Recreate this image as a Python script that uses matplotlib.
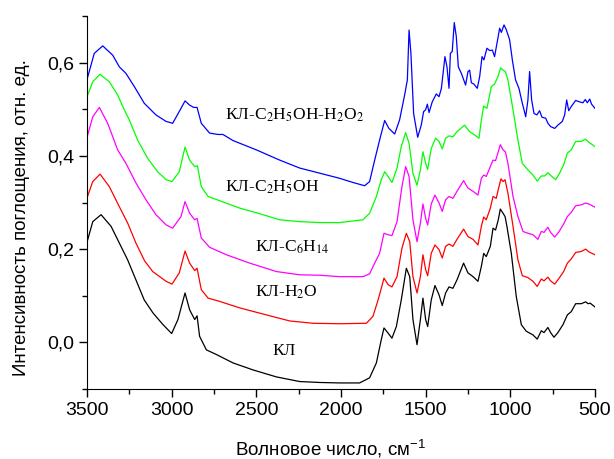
import matplotlib.pyplot as plt
from matplotlib.ticker import MultipleLocator, FuncFormatter

plt.rcParams['font.family'] = ['Liberation Sans', 'DejaVu Sans']
plt.rcParams['mathtext.fontset'] = 'custom'
plt.rcParams['mathtext.rm'] = 'Liberation Sans'
plt.rcParams['mathtext.it'] = 'Liberation Sans'

# КЛ (black)
wn_kl = [3500, 3466, 3417, 3358, 3309, 3260, 3211, 3162, 3110, 3051, 3000, 2963, 2921, 2894,
         2864, 2850, 2835, 2795, 2736, 2638, 2520, 2382, 2244, 2126, 2008, 1890, 1831, 1791,
         1762, 1746, 1722, 1699, 1673, 1644, 1614, 1594, 1575, 1551, 1531, 1516, 1500, 1488,
         1467, 1445, 1421, 1402, 1382, 1362, 1339, 1315, 1276, 1250, 1220, 1191, 1171, 1157,
         1142, 1118, 1102, 1087, 1071, 1059, 1043, 1031, 1020, 994, 965, 935, 906, 866, 841,
         817, 801, 778, 762, 742, 719, 689, 663, 640, 614, 581, 555, 541, 528, 500]
a_kl = [0.215, 0.259, 0.274, 0.249, 0.213, 0.177, 0.134, 0.091, 0.063, 0.038, 0.019, 0.049,
        0.106, 0.07, 0.049, 0.057, 0.013, -0.016, -0.026, -0.044, -0.059, -0.074, -0.084,
        -0.086, -0.087, -0.087, -0.076, -0.044, 0.006, 0.031, 0.02, 0.009, 0.034, 0.091, 0.159,
        0.141, 0.049, -0.005, 0.049, 0.095, 0.049, 0.034, 0.091, 0.122, 0.102, 0.079, 0.106,
        0.119, 0.116, 0.134, 0.17, 0.149, 0.141, 0.131, 0.163, 0.191, 0.184, 0.206, 0.245,
        0.241, 0.263, 0.286, 0.277, 0.27, 0.249, 0.191, 0.099, 0.038, 0.024, 0.016, 0.007,
        0.025, 0.021, 0.032, 0.021, 0.011, 0.021, 0.038, 0.059, 0.066, 0.083, 0.083, 0.087,
        0.083, 0.084, 0.076]

# КЛ-H2O (red)
wn_h2o = [3500, 3466, 3423, 3368, 3309, 3260, 3211, 3160, 3112, 3033, 2998, 2955, 2921, 2894,
          2864, 2850, 2825, 2785, 2717, 2598, 2441, 2303, 2165, 2008, 1850, 1811, 1781, 1759,
          1746, 1722, 1699, 1669, 1640, 1614, 1594, 1575, 1551, 1531, 1516, 1500, 1488, 1467,
          1445, 1421, 1402, 1382, 1362, 1339, 1315, 1276, 1250, 1220, 1191, 1171, 1157, 1142,
          1118, 1102, 1083, 1069, 1055, 1043, 1031, 1014, 984, 955, 929, 896, 866, 841, 817,
          801, 778, 762, 738, 715, 685, 663, 640, 614, 581, 555, 535, 500]
a_h2o = [0.31, 0.345, 0.361, 0.334, 0.291, 0.256, 0.213, 0.175, 0.152, 0.131, 0.125, 0.149,
         0.196, 0.17, 0.154, 0.159, 0.113, 0.095, 0.088, 0.074, 0.059, 0.046, 0.041, 0.04, 0.041,
         0.056, 0.091, 0.12, 0.138, 0.124, 0.119, 0.141, 0.202, 0.234, 0.216, 0.141, 0.106,
         0.141, 0.188, 0.156, 0.143, 0.191, 0.209, 0.199, 0.181, 0.206, 0.211, 0.206, 0.221,
         0.243, 0.227, 0.221, 0.209, 0.249, 0.269, 0.263, 0.288, 0.313, 0.309, 0.331, 0.351,
         0.345, 0.349, 0.32, 0.249, 0.177, 0.143, 0.139, 0.131, 0.12, 0.136, 0.132, 0.14,
         0.132, 0.125, 0.136, 0.152, 0.17, 0.179, 0.193, 0.195, 0.2, 0.194, 0.188]

# КЛ-C6H14 (magenta)
wn_hex = [3500, 3466, 3427, 3378, 3319, 3270, 3211, 3152, 3093, 3033, 2994, 2945, 2921, 2894,
          2864, 2850, 2825, 2776, 2677, 2539, 2382, 2244, 2126, 2008, 1870, 1831, 1801, 1772,
          1746, 1722, 1699, 1669, 1640, 1618, 1598, 1575, 1551, 1531, 1516, 1500, 1488, 1467,
          1445, 1421, 1402, 1382, 1362, 1339, 1315, 1276, 1250, 1220, 1191, 1171, 1157, 1142,
          1118, 1102, 1087, 1071, 1059, 1043, 1029, 1014, 984, 955, 925, 896, 866, 837, 817,
          801, 778, 762, 738, 715, 685, 663, 640, 614, 581, 555, 531, 500]
a_hex = [0.44, 0.484, 0.504, 0.47, 0.413, 0.384, 0.342, 0.306, 0.274, 0.252, 0.245, 0.27,
         0.302, 0.277, 0.263, 0.266, 0.224, 0.204, 0.188, 0.17, 0.152, 0.145, 0.144, 0.141,
         0.141, 0.147, 0.17, 0.191, 0.234, 0.231, 0.229, 0.259, 0.334, 0.377, 0.356, 0.263,
         0.216, 0.256, 0.297, 0.266, 0.252, 0.297, 0.316, 0.299, 0.281, 0.306, 0.313, 0.309,
         0.324, 0.347, 0.331, 0.324, 0.316, 0.352, 0.359, 0.356, 0.377, 0.391, 0.39, 0.409,
         0.424, 0.413, 0.409, 0.384, 0.313, 0.27, 0.238, 0.234, 0.231, 0.221, 0.238, 0.236,
         0.247, 0.236, 0.226, 0.236, 0.254, 0.27, 0.279, 0.293, 0.295, 0.299, 0.296, 0.29]

# КЛ-C2H5OH (green)
wn_eth = [3500, 3466, 3423, 3368, 3319, 3289, 3250, 3201, 3142, 3083, 3033, 2998, 2955, 2921,
          2894, 2864, 2848, 2825, 2785, 2717, 2598, 2480, 2362, 2244, 2126, 2008, 1870, 1831,
          1791, 1762, 1742, 1722, 1699, 1669, 1644, 1618, 1598, 1575, 1551, 1531, 1516, 1500,
          1488, 1467, 1441, 1421, 1402, 1382, 1362, 1339, 1315, 1270, 1240, 1211, 1185, 1171,
          1157, 1138, 1112, 1093, 1073, 1057, 1043, 1029, 1014, 984, 955, 929, 896, 866, 841,
          817, 797, 778, 758, 732, 709, 685, 663, 640, 614, 581, 557, 535, 500]
a_eth = [0.527, 0.559, 0.575, 0.559, 0.531, 0.506, 0.477, 0.434, 0.395, 0.366, 0.349, 0.345,
         0.366, 0.419, 0.391, 0.377, 0.379, 0.334, 0.313, 0.304, 0.288, 0.276, 0.263, 0.259,
         0.257, 0.257, 0.263, 0.277, 0.313, 0.349, 0.366, 0.356, 0.343, 0.374, 0.42, 0.45,
         0.427, 0.363, 0.337, 0.37, 0.409, 0.384, 0.371, 0.416, 0.438, 0.431, 0.415, 0.438,
         0.443, 0.441, 0.452, 0.466, 0.452, 0.445, 0.438, 0.477, 0.507, 0.502, 0.549, 0.554,
         0.57, 0.589, 0.584, 0.581, 0.563, 0.499, 0.434, 0.384, 0.37, 0.359, 0.346, 0.357,
         0.357, 0.364, 0.357, 0.349, 0.363, 0.381, 0.406, 0.413, 0.431, 0.431, 0.436, 0.429,
         0.42]

# КЛ-C2H5OH-H2O2 (blue)
wn_per = [3500, 3457, 3407, 3348, 3309, 3270, 3221, 3162, 3093, 3033, 2994, 2945, 2921, 2894,
          2870, 2850, 2825, 2776, 2726, 2697, 2638, 2500, 2362, 2244, 2126, 2008, 1929, 1860,
          1831, 1801, 1772, 1742, 1717, 1683, 1654, 1624, 1608, 1598, 1587, 1571, 1547, 1526,
          1512, 1500, 1490, 1480, 1461, 1437, 1421, 1407, 1386, 1374, 1362, 1354, 1343, 1331,
          1319, 1307, 1289, 1264, 1250, 1240, 1230, 1215, 1195, 1181, 1167, 1156, 1138, 1122,
          1106, 1093, 1075, 1063, 1053, 1037, 1024, 1004, 988, 969, 949, 929, 909, 896, 886,
          874, 860, 843, 827, 813, 791, 778, 762, 738, 719, 693, 679, 667, 655, 640, 614, 591,
          571, 557, 545, 531, 520, 500]
a_per = [0.564, 0.62, 0.636, 0.616, 0.591, 0.577, 0.549, 0.513, 0.488, 0.474, 0.47, 0.502,
         0.518, 0.509, 0.504, 0.504, 0.47, 0.449, 0.446, 0.446, 0.433, 0.413, 0.391, 0.374,
         0.363, 0.352, 0.343, 0.336, 0.345, 0.391, 0.434, 0.476, 0.459, 0.447, 0.477, 0.531,
         0.563, 0.67, 0.62, 0.491, 0.44, 0.466, 0.495, 0.499, 0.511, 0.493, 0.516, 0.533, 0.527,
         0.545, 0.613, 0.591, 0.545, 0.62, 0.624, 0.686, 0.656, 0.591, 0.577, 0.552, 0.581,
         0.584, 0.557, 0.554, 0.545, 0.57, 0.613, 0.606, 0.631, 0.626, 0.627, 0.613, 0.649,
         0.674, 0.665, 0.681, 0.671, 0.649, 0.606, 0.563, 0.545, 0.513, 0.484, 0.52, 0.581,
         0.52, 0.491, 0.488, 0.497, 0.483, 0.481, 0.47, 0.463, 0.459, 0.466, 0.474, 0.488, 0.52,
         0.497, 0.506, 0.519, 0.516, 0.514, 0.521, 0.514, 0.522, 0.511, 0.502]

fig = plt.figure(figsize=(6.14, 4.59), dpi=100)
ax = fig.add_axes([0.1417, 0.1525, 0.8273, 0.8125])

ax.plot(wn_kl, a_kl, color='black', lw=0.9)
ax.plot(wn_h2o, a_h2o, color='#ff0000', lw=0.9)
ax.plot(wn_hex, a_hex, color='#ff00ff', lw=0.9)
ax.plot(wn_eth, a_eth, color='#00ff00', lw=0.9)
ax.plot(wn_per, a_per, color='#0000ff', lw=0.9)

# curve labels
lab = dict(fontsize=12.5, family='Liberation Serif', math_fontfamily='stix', va='baseline')
ax.text(2685, 0.477, 'КЛ-C$_2$H$_5$OH-H$_2$O$_2$', **lab)
ax.text(2685, 0.323, 'КЛ-C$_2$H$_5$OH', **lab)
ax.text(2508, 0.194, 'КЛ-C$_6$H$_{14}$', **lab)
ax.text(2508, 0.098, 'КЛ-H$_2$O', **lab)
ax.text(2407, -0.026, 'КЛ', **lab)

ax.set_xlim(3500, 500)
ax.set_ylim(-0.1, 0.7)
ax.xaxis.set_major_locator(MultipleLocator(500))
ax.xaxis.set_minor_locator(MultipleLocator(250))
ax.yaxis.set_major_locator(MultipleLocator(0.2))
ax.yaxis.set_minor_locator(MultipleLocator(0.1))
ax.yaxis.set_major_formatter(FuncFormatter(lambda v, p: f'{v:.1f}'.replace('.', ',')))

ax.tick_params(which='major', direction='out', length=5.5, width=1, labelsize=14)
ax.tick_params(which='minor', direction='out', length=3.5, width=1)
ax.spines['top'].set_visible(False)
ax.spines['right'].set_visible(False)

ax.set_xlabel('Волновое число, см$^{-1}$', fontsize=13.5)
ax.xaxis.set_label_coords(0.48, -0.131)
ax.set_ylabel('Интенсивность поглощения, отн. ед.', fontsize=13.5)
ax.yaxis.set_label_coords(-0.112, 0.461)

fig.savefig('out.png', dpi=100)
